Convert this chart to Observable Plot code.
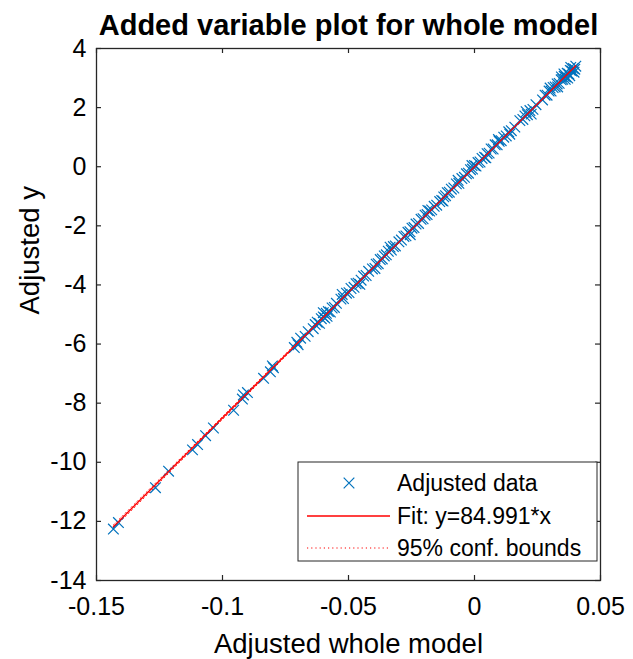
<!DOCTYPE html>
<html><head><meta charset="utf-8">
<script src="https://cdn.jsdelivr.net/npm/d3@7"></script>
<script src="https://cdn.jsdelivr.net/npm/@observablehq/plot@0.6"></script>
<style>
body{margin:0;background:#fff}
#chart svg{font-family:"Liberation Sans",Arial,Helvetica,sans-serif;overflow:visible}
</style>
</head><body><div id="chart"></div>
<script>
const titleText = "Added variable plot for whole model";
const xLabel = "Adjusted whole model";
const yLabel = "Adjusted y";
const legendLabels = ["Adjusted data", "Fit: y=84.991*x", "95% conf. bounds"];
const slope = 84.991;
const confSlopes = [84.6, 85.4];
const xTicks = [-0.15, -0.1, -0.05, 0, 0.05];
const yTicks = [-14, -12, -10, -8, -6, -4, -2, 0, 2, 4];

const adjX = [
-0.1433,-0.1413,-0.1266,-0.1214,-0.1119,-0.1099,-0.1067,-0.1036,-0.0956,-0.0921,-0.0917,-0.0901,-0.0837,-0.0810,-0.0798,-0.0802,
-0.0715,-0.0705,-0.0700,-0.0690,-0.0672,-0.0660,-0.0640,-0.0632,-0.0624,-0.0615,-0.0608,-0.0600,-0.0594,-0.0588,-0.0580,-0.0572,-0.0565,-0.0556,-0.0548,
-0.0530,-0.0520,-0.0508,-0.0498,-0.0490,-0.0478,-0.0470,-0.0462,-0.0450,-0.0440,-0.0430,-0.0420,-0.0405,-0.0390,-0.0382,-0.0374,-0.0366,-0.0358,-0.0350,
-0.0342,-0.0330,-0.0322,-0.0314,-0.0300,-0.0290,-0.0280,-0.0272,-0.0264,-0.0256,-0.0248,-0.0240,-0.0232,-0.0222,-0.0212,-0.0204,-0.0196,-0.0188,-0.0178,
-0.0170,-0.0160,-0.0150,-0.0138,-0.0130,-0.0122,-0.0115,-0.0108,-0.0100,-0.0092,-0.0082,-0.0072,-0.0062,-0.0050,-0.0040,-0.0032,-0.0024,-0.0016,-0.0008,
0.0000,0.0006,0.0014,0.0022,0.0030,0.0040,0.0050,0.0058,0.0066,0.0074,0.0082,0.0090,0.0098,0.0106,0.0116,0.0126,0.0136,0.0146,0.0160,0.0180,0.0192,
0.0200,0.0210,0.0220,0.0232,0.0244,0.0270,0.0280,0.0288,0.0296,0.0304,0.0312,0.0320,0.0328,0.0336,0.0344,0.0350,0.0356,0.0362,0.0368,0.0374,0.0380,
0.0386,0.0392,0.0398,0.0402,
-0.0600,-0.0585,-0.0525,-0.0455,-0.0395,-0.0335,-0.0255,-0.0185,-0.0125,-0.0065,-0.0010,0.0045,0.0095,0.0140,0.0205,0.0225,0.0300,0.0330,0.0345,0.0370,
0.0382,0.0395,0.0360,0.0355,0.0378
];
const adjY = [
-12.26,-12.04,-10.86,-10.30,-9.58,-9.40,-9.10,-8.84,-8.24,-7.86,-7.72,-7.64,-7.16,-6.94,-6.80,-6.74,
-6.12,-5.94,-6.02,-5.80,-5.74,-5.58,-5.48,-5.34,-5.26,-5.30,-5.14,-5.08,-5.12,-4.96,-4.90,-4.92,-4.78,-4.76,-4.62,
-4.48,-4.46,-4.28,-4.26,-4.12,-4.08,-3.96,-3.94,-3.84,-3.70,-3.68,-3.54,-3.46,-3.30,-3.28,-3.14,-3.12,-3.02,-2.98,
-2.86,-2.82,-2.70,-2.68,-2.54,-2.48,-2.36,-2.34,-2.22,-2.20,-2.08,-2.06,-1.94,-1.92,-1.78,-1.76,-1.64,-1.62,-1.50,
-1.46,-1.34,-1.30,-1.18,-1.14,-1.02,-0.98,-0.88,-0.86,-0.76,-0.72,-0.58,-0.56,-0.40,-0.36,-0.24,-0.22,-0.10,-0.08,
0.04,0.02,0.14,0.16,0.28,0.32,0.44,0.46,0.60,0.60,0.74,0.74,0.86,0.88,1.00,1.04,1.18,1.22,1.34,1.56,1.60,
1.72,1.76,1.90,1.94,2.10,2.26,2.42,2.42,2.56,2.56,2.68,2.70,2.80,2.82,2.94,2.96,3.06,3.04,3.16,3.14,3.26,
3.24,3.32,3.30,3.40,
-4.94,-5.06,-4.32,-3.98,-3.44,-2.72,-2.30,-1.48,-1.16,-0.46,0.04,0.30,0.92,1.10,1.86,1.78,2.66,2.70,3.04,3.00,
3.36,3.20,2.96,3.14,3.08
];

const points = adjX.map((x, i) => ({x, y: adjY[i]}));
const xExt = d3.extent(adjX);
const fitLine = xExt.map(x => ({x, y: slope * x}));
const confLo = xExt.map(x => ({x, y: (x < 0 ? confSlopes[1] : confSlopes[0]) * x}));
const confHi = xExt.map(x => ({x, y: (x < 0 ? confSlopes[0] : confSlopes[1]) * x}));

const W = 633, H = 659, mt = 48, mr = 33, mb = 79, ml = 96;
const fw = W - ml - mr, fh = H - mt - mb;
const axisColor = "#262626";
const blue = "#0072BD", red = "#FF0000";
const fmt = d => String(d);

const chart = Plot.plot({
  width: W, height: H,
  marginTop: mt, marginRight: mr, marginBottom: mb, marginLeft: ml,
  x: {domain: [-0.15, 0.05]},
  y: {domain: [-14, 4]},
  style: {background: "#fff", color: axisColor},
  marks: [
    Plot.line(confLo, {x: "x", y: "y", stroke: red, strokeWidth: 1, strokeDasharray: "1.2,3"}),
    Plot.line(confHi, {x: "x", y: "y", stroke: red, strokeWidth: 1, strokeDasharray: "1.2,3"}),
    Plot.dot(points, {x: "x", y: "y", symbol: "times", r: 4.9, stroke: blue, strokeWidth: 1.2}),
    Plot.line(fitLine, {x: "x", y: "y", stroke: red, strokeWidth: 1.3}),
    Plot.tickX(xTicks, {x: d => d, insetTop: fh - 5, stroke: axisColor, strokeWidth: 1.2}),
    Plot.tickX(xTicks, {x: d => d, insetBottom: fh - 5, stroke: axisColor, strokeWidth: 1.2}),
    Plot.tickY(yTicks, {y: d => d, insetRight: fw - 5, stroke: axisColor, strokeWidth: 1.2}),
    Plot.tickY(yTicks, {y: d => d, insetLeft: fw - 5, stroke: axisColor, strokeWidth: 1.2}),
    Plot.frame({stroke: axisColor, strokeWidth: 1.3}),
    Plot.axisX({ticks: xTicks, tickSize: 0, tickPadding: 17, tickFormat: fmt, fontSize: 25, label: null, fill: "#000"}),
    Plot.axisY({ticks: yTicks, tickSize: 0, tickPadding: 10, tickFormat: fmt, fontSize: 25, label: null, fill: "#000"}),
    Plot.text([xLabel], {text: d => d, frameAnchor: "bottom", lineAnchor: "middle", dy: 64, fontSize: 27.5, fill: "#000"}),
    Plot.text([yLabel], {text: d => d, frameAnchor: "left", lineAnchor: "middle", rotate: -90, dx: -66, fontSize: 27.5, fill: "#000"}),
    Plot.text([titleText], {text: d => d, frameAnchor: "top", lineAnchor: "middle", dy: -23, fontSize: 29, fontWeight: "bold", fill: "#000"})
  ]
});
document.getElementById("chart").appendChild(chart);

// Legend box (MATLAB-style, inside the axes, bottom-right)
const svg = d3.select(chart);
const lg = svg.append("g").attr("class", "legend").attr("text-anchor", "start");
const lx = 298, ly = 462, lw = 299, lh = 99;
lg.append("rect").attr("x", lx).attr("y", ly).attr("width", lw).attr("height", lh)
  .attr("fill", "#fff").attr("stroke", axisColor).attr("stroke-width", 1);
const rowY = [483, 516, 548];
const sym = d3.symbol(d3.symbolTimes, Math.PI * 4.9 * 4.9);
lg.append("path").attr("d", sym()).attr("transform", `translate(349,${rowY[0]})`)
  .attr("fill", "none").attr("stroke", blue).attr("stroke-width", 1.2);
lg.append("line").attr("x1", 307).attr("x2", 390).attr("y1", rowY[1]).attr("y2", rowY[1])
  .attr("stroke", red).attr("stroke-width", 1.3);
lg.append("line").attr("x1", 307).attr("x2", 390).attr("y1", rowY[2]).attr("y2", rowY[2])
  .attr("stroke", red).attr("stroke-width", 1).attr("stroke-dasharray", "1.2,3");
legendLabels.forEach((t, i) => {
  lg.append("text").attr("x", 397).attr("y", rowY[i]).attr("dy", "0.35em")
    .attr("text-anchor", "start").attr("font-size", 23).attr("fill", "#000").text(t);
});
</script>
</body></html>
